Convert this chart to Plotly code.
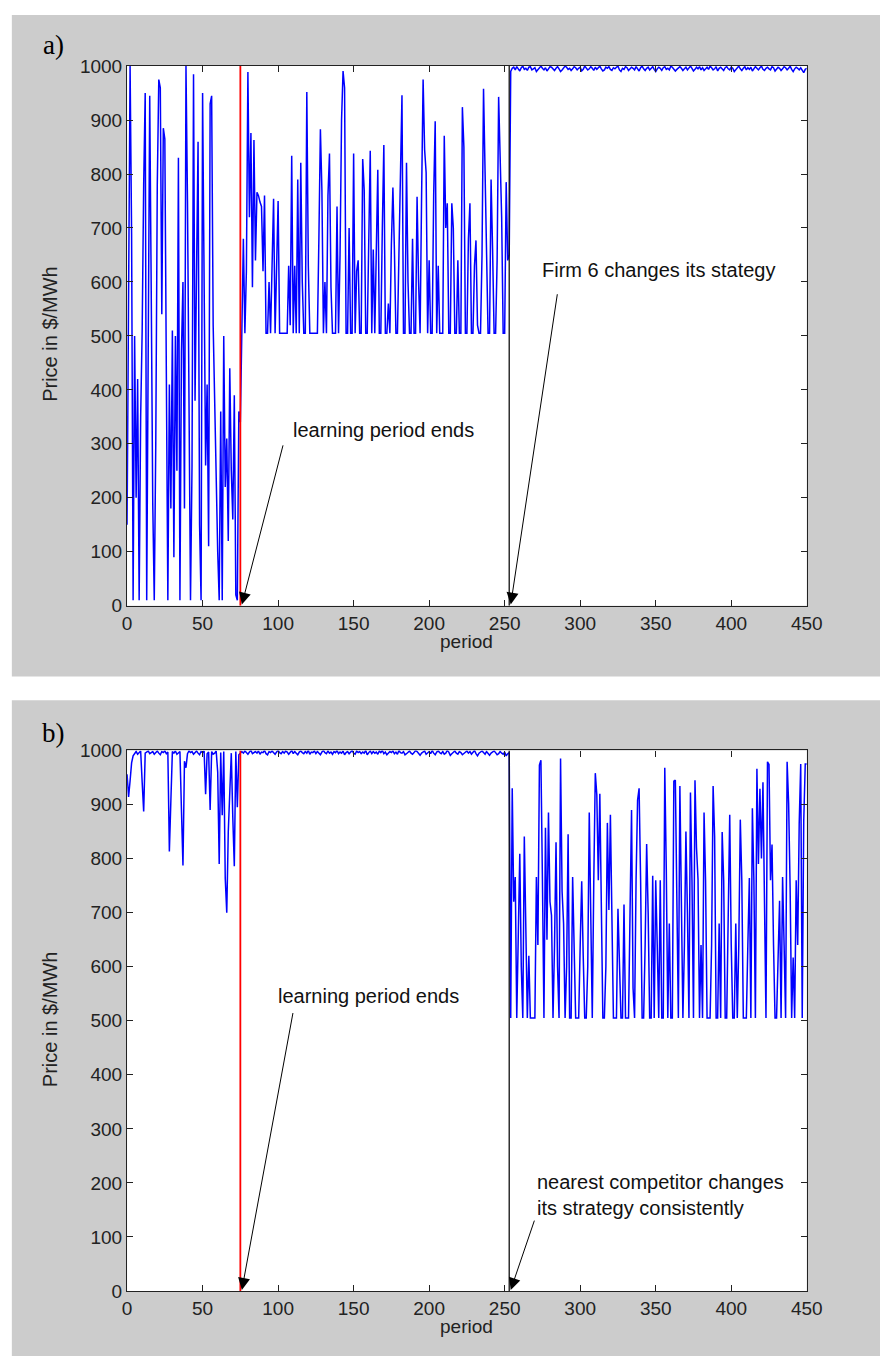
import plotly.graph_objects as go

# ---------------- data ----------------
# Panel a: price of firm 6, periods 0..450
a_learning = [150, 500, 1000, 690, 10, 500, 200, 420, 10, 350,
              510, 780, 950, 10, 610, 945, 580, 190, 10, 300,
              780, 975, 960, 540, 885, 865, 430, 10, 410, 180,
              510, 90, 500, 250, 830, 10, 470, 600, 180, 1000,
              750, 430, 10, 260, 985, 380, 600, 860, 150, 10,
              950, 540, 260, 410, 110, 930, 945, 520, 380, 200,
              100, 10, 360, 10, 500, 220, 310, 120, 440, 250,
              160, 390, 20, 10, 360, 340]
a_middle = [505, 680, 505, 620, 989, 720, 876, 590, 863, 640,
            766, 760, 748, 740, 620, 760, 505, 505, 600, 505,
            630, 754, 505, 630, 750, 505, 505, 505, 505, 505,
            505, 630, 520, 834, 505, 630, 505, 790, 505, 821,
            600, 505, 505, 952, 630, 505, 505, 505, 505, 505,
            505, 680, 883, 770, 505, 600, 505, 760, 838, 590,
            505, 505, 505, 740, 505, 650, 900, 991, 960, 505,
            505, 700, 505, 505, 838, 505, 620, 640, 505, 505,
            828, 770, 505, 505, 680, 843, 505, 660, 505, 680,
            808, 505, 505, 700, 854, 505, 505, 560, 505, 670,
            775, 660, 505, 505, 640, 760, 946, 505, 505, 821,
            600, 505, 505, 680, 505, 505, 758, 600, 505, 760,
            975, 845, 803, 505, 640, 505, 505, 760, 898, 505,
            630, 505, 505, 505, 871, 700, 746, 505, 505, 746,
            700, 505, 505, 640, 505, 505, 924, 850, 505, 505,
            680, 746, 505, 505, 630, 677, 520, 505, 505, 650,
            958, 820, 700, 505, 505, 790, 660, 505, 505, 640,
            943, 810, 720, 505, 505, 785, 640, 650]
a_late = [990, 996, 998, 993, 999, 995, 991, 997, 1000, 994,
          996, 992, 998, 999, 993, 995, 997, 990, 994, 998,
          1000, 996, 993, 997, 991, 995, 999, 998, 994, 992,
          996, 999, 995, 990, 993, 997, 1000, 998, 994, 996,
          992, 995, 999, 997, 993, 996, 998, 991, 994, 1000,
          997, 993, 995, 999, 996, 992, 998, 994, 997, 1000,
          995, 991, 993, 998, 996, 999, 994, 992, 997, 995,
          998, 1000, 993, 990, 996, 994, 999, 997, 992, 995,
          998, 996, 993, 999, 994, 991, 997, 1000, 995, 992,
          996, 998, 993, 997, 999, 994, 990, 995, 998, 996,
          992, 997, 999, 994, 996, 993, 1000, 998, 995, 991,
          994, 997, 999, 996, 992, 995, 998, 993, 997, 1000,
          996, 991, 994, 998, 995, 999, 993, 997, 992, 996,
          998, 994, 1000, 997, 993, 995, 999, 991, 996, 998,
          994, 992, 997, 999, 995, 993, 998, 996, 990, 994,
          997, 1000, 995, 992, 996, 999, 993, 997, 994, 998,
          991, 995, 999, 996, 993, 997, 1000, 994, 992, 996,
          998, 995, 993, 999, 997, 991, 994, 998, 996, 992,
          995, 999, 997, 993, 996, 1000, 994, 990, 995, 998,
          996, 993, 997, 992, 988, 994, 996]

# Panel b: price of the nearest competitor, periods 0..450
b_learning = [956, 914, 944, 977, 990, 995, 998, 993, 996, 999,
              941, 887, 995, 997, 999, 994, 996, 998, 993, 997,
              999, 995, 992, 998, 996, 999, 994, 997, 813, 907,
              998, 995, 999, 993, 996, 998, 890, 787, 980, 968,
              994, 999, 996, 998, 993, 997, 999, 995, 992, 998,
              996, 999, 919, 994, 997, 890, 998, 993, 995, 999,
              960, 790, 996, 880, 998, 763, 700, 849, 930, 995,
              876, 786, 998, 895, 992, 996]
b_middle = [998, 995, 999, 996, 993, 997, 1000, 994, 996, 998,
            995, 999, 993, 997, 996, 1000, 994, 992, 998, 996,
            999, 995, 993, 997, 1000, 996, 994, 998, 995, 999,
            997, 993, 996, 1000, 994, 998, 995, 992, 997, 999,
            996, 994, 998, 995, 1000, 993, 997, 996, 999, 994,
            998, 995, 992, 997, 1000, 996, 994, 999, 995, 997,
            993, 998, 996, 1000, 994, 997, 995, 999, 992, 996,
            998, 994, 997, 1000, 995, 993, 999, 996, 998, 994,
            997, 995, 1000, 992, 996, 999, 994, 998, 995, 997,
            993, 999, 996, 1000, 994, 997, 992, 995, 998, 996,
            999, 994, 997, 993, 1000, 996, 995, 998, 992, 994,
            997, 999, 995, 993, 996, 1000, 998, 994, 991, 995,
            997, 999, 993, 996, 998, 994, 1000, 995, 992, 997,
            999, 996, 994, 998, 993, 995, 1000, 997, 991, 994,
            996, 999, 995, 993, 998, 996, 992, 994, 997, 999,
            995, 998, 993, 996, 1000, 994, 990, 995, 997, 999,
            996, 993, 998, 994, 991, 995, 997, 999, 996, 992,
            994, 998, 995, 993, 997, 990, 994, 996]
b_late = [505, 930, 720, 766, 505, 640, 809, 600, 505, 841,
          700, 505, 620, 505, 505, 505, 505, 766, 640, 973,
          982, 760, 505, 857, 650, 885, 720, 695, 505, 640,
          830, 600, 505, 985, 740, 680, 505, 600, 845, 505,
          505, 766, 660, 505, 505, 505, 640, 758, 620, 505,
          505, 600, 885, 700, 505, 760, 958, 918, 760, 920,
          720, 505, 505, 600, 866, 705, 881, 640, 505, 505,
          505, 707, 620, 505, 505, 715, 505, 505, 505, 700,
          890, 560, 505, 762, 908, 930, 760, 505, 505, 640,
          827, 700, 505, 505, 768, 505, 760, 640, 505, 760,
          505, 505, 968, 780, 505, 680, 505, 505, 943, 945,
          700, 505, 934, 760, 505, 640, 850, 700, 505, 922,
          760, 505, 945, 820, 762, 505, 640, 505, 885, 760,
          505, 505, 505, 640, 934, 841, 505, 505, 680, 505,
          849, 760, 505, 505, 700, 881, 640, 505, 505, 680,
          505, 640, 872, 760, 505, 505, 505, 640, 764, 505,
          893, 760, 505, 966, 790, 929, 800, 941, 760, 505,
          979, 974, 760, 826, 640, 505, 505, 600, 722, 505,
          766, 640, 505, 979, 902, 745, 505, 617, 505, 760,
          640, 865, 975, 505, 870, 975, 975]

learning_end = 75
strategy_change = 253
x_ticks = [0, 50, 100, 150, 200, 250, 300, 350, 400, 450]
y_ticks = [0, 100, 200, 300, 400, 500, 600, 700, 800, 900, 1000]

price_a = a_learning + a_middle + a_late
price_b = b_learning + b_middle + b_late
periods = list(range(len(price_a)))

# ---------------- figure ----------------
W, H = 896, 1367
def px(x):
    return x / W
def py(y):
    return 1 - y / H

FONT = "Liberation Sans, Arial, sans-serif"
AX = "#222222"

fig = go.Figure()
fig.add_trace(go.Scatter(x=periods, y=price_a, mode="lines",
                         line=dict(color="#0000ff", width=1.5),
                         xaxis="x", yaxis="y", showlegend=False))
fig.add_trace(go.Scatter(x=periods, y=price_b, mode="lines",
                         line=dict(color="#0000ff", width=1.5),
                         xaxis="x2", yaxis="y2", showlegend=False))

def xax(anchor):
    return dict(domain=[px(125), px(821)], anchor=anchor, range=[0, 450],
                tickvals=x_ticks, ticks="inside", ticklen=6, tickcolor=AX,
                showline=True, linecolor=AX, linewidth=1.2, mirror="ticks",
                showgrid=False, zeroline=False,
                tickfont=dict(family=FONT, size=19, color="#222"))

def yax(anchor, dom):
    return dict(domain=dom, anchor=anchor, range=[0, 1000],
                tickvals=y_ticks, ticks="inside", ticklen=6, tickcolor=AX,
                showline=True, linecolor=AX, linewidth=1.2, mirror="ticks",
                showgrid=False, zeroline=False,
                tickfont=dict(family=FONT, size=19, color="#222"))

dom_a = [py(605), py(57)]
dom_b = [py(1301), py(752)]

shapes = [
    # grey figure panels
    dict(type="rect", xref="paper", yref="paper", x0=px(7), x1=1, y0=py(677), y1=py(5),
         fillcolor="#cccccc", line=dict(width=0), layer="below"),
    dict(type="rect", xref="paper", yref="paper", x0=px(7), x1=1, y0=0, y1=py(701),
         fillcolor="#cccccc", line=dict(width=0), layer="below"),
    # white axes areas
    dict(type="rect", xref="paper", yref="paper", x0=px(125), x1=px(821), y0=dom_a[0], y1=dom_a[1],
         fillcolor="white", line=dict(width=0), layer="below"),
    dict(type="rect", xref="paper", yref="paper", x0=px(125), x1=px(821), y0=dom_b[0], y1=dom_b[1],
         fillcolor="white", line=dict(width=0), layer="below"),
]
for xr, yr in (("x", "y"), ("x2", "y2")):
    shapes.append(dict(type="line", xref=xr, yref=yr, x0=learning_end, x1=learning_end,
                       y0=0, y1=1000, line=dict(color="#ff0000", width=1.8)))
    shapes.append(dict(type="line", xref=xr, yref=yr, x0=strategy_change, x1=strategy_change,
                       y0=0, y1=1000, line=dict(color="#111111", width=1.3)))

TXT = dict(family=FONT, size=20, color="#111")
CM = dict(xanchor="center", yanchor="middle", showarrow=False)
annotations = [
    dict(text="a)", xref="paper", yref="paper", x=px(50), y=py(36), **CM,
         font=dict(family="Liberation Serif, Times New Roman, serif", size=27, color="#000")),
    dict(text="b)", xref="paper", yref="paper", x=px(50), y=py(734), **CM,
         font=dict(family="Liberation Serif, Times New Roman, serif", size=27, color="#000")),
    # axis titles
    dict(text="period", xref="paper", yref="paper", x=px(473), y=py(641), **CM,
         font=dict(family=FONT, size=19, color="#222")),
    dict(text="period", xref="paper", yref="paper", x=px(473), y=py(1337), **CM,
         font=dict(family=FONT, size=19, color="#222")),
    dict(text="Price in $/MWh", xref="paper", yref="paper", x=px(46), y=py(329), **CM,
         textangle=-90, font=dict(family=FONT, size=20, color="#222")),
    dict(text="Price in $/MWh", xref="paper", yref="paper", x=px(46), y=py(1025), **CM,
         textangle=-90, font=dict(family=FONT, size=20, color="#222")),
    # panel a texts
    dict(text="learning period ends", xref="x", yref="y", x=108.5, y=325, xanchor="left",
         yanchor="middle", showarrow=False, font=TXT),
    dict(text="Firm 6 changes its stategy", xref="x", yref="y", x=273.5, y=622, xanchor="left",
         yanchor="middle", showarrow=False, font=TXT),
    # panel b texts
    dict(text="learning period ends", xref="x2", yref="y2", x=98.3, y=546, xanchor="left",
         yanchor="middle", showarrow=False, font=TXT),
    dict(text="nearest competitor changes<br>its strategy consistently", xref="x2", yref="y2",
         x=270.3, y=178, xanchor="left", yanchor="middle", align="left", showarrow=False, font=TXT),
]
ARW = dict(showarrow=True, arrowhead=2, arrowsize=2.4, arrowwidth=1, arrowcolor="#000", text="")
annotations += [
    dict(xref="x", yref="y", axref="x", ayref="y", x=76, y=2, ax=103.5, ay=300, **ARW),
    dict(xref="x", yref="y", axref="x", ayref="y", x=254, y=2, ax=285, ay=580, **ARW),
    dict(xref="x2", yref="y2", axref="x2", ayref="y2", x=76, y=2, ax=110, ay=517, **ARW),
    dict(xref="x2", yref="y2", axref="x2", ayref="y2", x=254, y=2, ax=270, ay=133, **ARW),
]

fig.update_layout(
    width=W, height=H, margin=dict(l=0, r=0, t=0, b=0),
    paper_bgcolor="white", plot_bgcolor="white",
    xaxis=xax("y"), yaxis=yax("x", dom_a),
    xaxis2=xax("y2"), yaxis2=yax("x2", dom_b),
    shapes=shapes, annotations=annotations, showlegend=False,
)

fig.write_html("out.html")
